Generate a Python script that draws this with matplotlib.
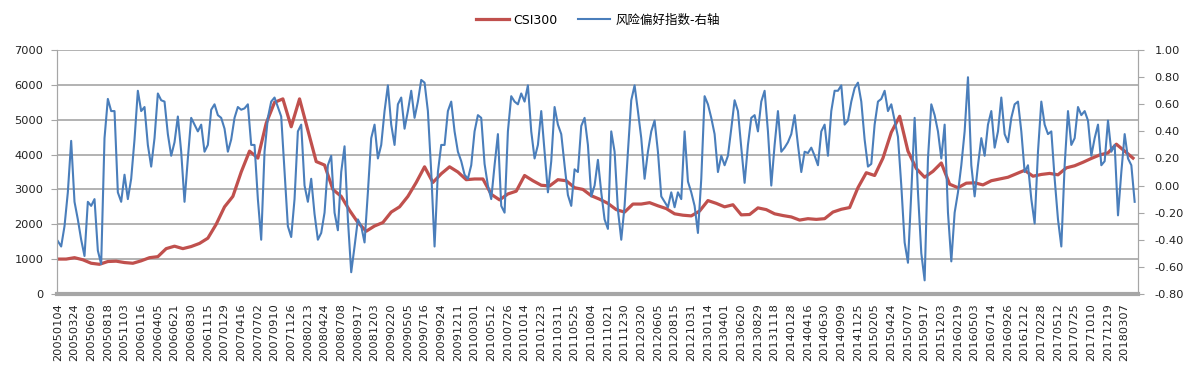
import matplotlib.pyplot as plt
import numpy as np

plt.rcParams['font.family'] = ['DejaVu Sans', 'Noto Sans CJK SC']
plt.rcParams['axes.unicode_minus'] = False

# x tick labels, one every 50 trading days
date_labels = [
    "20050104", "20050324", "20050609", "20050818", "20051103",
    "20060116", "20060405", "20060621", "20060830", "20061115",
    "20070129", "20070416", "20070702", "20070910", "20071126",
    "20080213", "20080424", "20080708", "20080917", "20081203",
    "20090220", "20090505", "20090716", "20090924", "20091211",
    "20100301", "20100512", "20100726", "20101014", "20101223",
    "20110311", "20110525", "20110804", "20111021", "20111230",
    "20120320", "20120605", "20120815", "20121031",
    "20130114", "20130401", "20130620", "20130829", "20131118",
    "20140128", "20140416", "20140630", "20140909", "20141125",
    "20150205", "20150424", "20150707", "20150917", "20151203",
    "20160219", "20160503", "20160714", "20160926", "20161212",
    "20170228", "20170512", "20170725", "20171010", "20171219",
    "20180307",
]
label_step = 50

# CSI300 close, read every 25 trading days
csi_step = 25
csi300 = [
    1000, 1000, 1040, 980, 880, 850, 930, 940, 900, 880,
    950, 1040, 1070, 1300, 1370, 1300, 1360, 1450, 1600, 2000,
    2500, 2800, 3500, 4100, 3900, 4900, 5500, 5600, 4800, 5600,
    4700, 3800, 3700, 3000, 2800, 2400, 2050, 1800, 1950, 2050,
    2350, 2500, 2800, 3200, 3650, 3200, 3450, 3650, 3500, 3280,
    3300, 3300, 2860, 2700, 2870, 2950, 3400, 3250, 3120, 3100,
    3280, 3250, 3050, 3000, 2820, 2720, 2600, 2420, 2350, 2580,
    2580, 2620, 2530, 2450, 2300, 2260, 2240, 2380, 2680, 2600,
    2500, 2560, 2270, 2280, 2470, 2420, 2300, 2250, 2210, 2120,
    2160, 2140, 2160, 2350, 2430, 2480, 3050, 3480, 3400, 3900,
    4640, 5100, 4100, 3600, 3350, 3520, 3760, 3150, 3050, 3180,
    3190, 3130, 3250, 3300, 3350, 3450, 3550, 3380, 3430, 3460,
    3420, 3620, 3680, 3780, 3890, 3990, 4050, 4300, 4100, 3900,
]

# risk appetite index (right axis), read every 10 trading days
risk_step = 10
risk = [
    -0.41, -0.45, -0.30, -0.05, 0.33, -0.12, -0.25, -0.40, -0.52, -0.12,
    -0.15, -0.10, -0.48, -0.58, 0.35, 0.64, 0.55, 0.55, -0.05, -0.12,
    0.08, -0.10, 0.05, 0.34, 0.70, 0.55, 0.58, 0.30, 0.14, 0.35,
    0.68, 0.63, 0.62, 0.38, 0.22, 0.32, 0.51, 0.25, -0.12, 0.20,
    0.50, 0.45, 0.40, 0.45, 0.25, 0.30, 0.56, 0.60, 0.52, 0.50,
    0.42, 0.25, 0.34, 0.50, 0.58, 0.56, 0.57, 0.60, 0.30, 0.30,
    -0.10, -0.40, 0.25, 0.50, 0.62, 0.65, 0.58, 0.51, 0.10, -0.30,
    -0.38, -0.10, 0.40, 0.45, 0.00, -0.12, 0.05, -0.21, -0.40, -0.35,
    -0.20, 0.15, 0.22, -0.20, -0.33, 0.10, 0.29, -0.25, -0.64, -0.45,
    -0.25, -0.30, -0.42, -0.05, 0.35, 0.45, 0.20, 0.30, 0.55, 0.74,
    0.45, 0.30, 0.60, 0.65, 0.42, 0.55, 0.70, 0.50, 0.62, 0.78,
    0.76, 0.55, 0.10, -0.45, 0.10, 0.30, 0.30, 0.55, 0.62, 0.40,
    0.25, 0.18, 0.08, 0.05, 0.15, 0.40, 0.52, 0.50, 0.16, 0.00,
    -0.10, 0.15, 0.38, -0.15, -0.20, 0.40, 0.66, 0.62, 0.60, 0.68,
    0.62, 0.74, 0.40, 0.20, 0.30, 0.55, 0.25, -0.05, 0.18, 0.58,
    0.45, 0.38, 0.15, -0.07, -0.15, 0.12, 0.10, 0.44, 0.50, 0.30,
    -0.08, 0.00, 0.19, -0.05, -0.25, -0.32, 0.40, 0.25, -0.18, -0.40,
    -0.15, 0.25, 0.63, 0.74, 0.55, 0.35, 0.05, 0.25, 0.40, 0.48,
    0.25, -0.08, -0.12, -0.16, -0.05, -0.16, -0.05, -0.10, 0.40, 0.03,
    -0.05, -0.15, -0.35, 0.05, 0.66, 0.60, 0.50, 0.38, 0.10, 0.22,
    0.15, 0.22, 0.42, 0.63, 0.55, 0.28, 0.02, 0.30, 0.50, 0.52,
    0.40, 0.62, 0.70, 0.40, 0.00, 0.30, 0.55, 0.25, 0.28, 0.32,
    0.38, 0.52, 0.30, 0.10, 0.25, 0.24, 0.28, 0.22, 0.15, 0.40,
    0.45, 0.22, 0.55, 0.70, 0.70, 0.74, 0.45, 0.48, 0.62, 0.72,
    0.76, 0.62, 0.34, 0.14, 0.16, 0.45, 0.62, 0.64, 0.70, 0.55,
    0.60, 0.48, 0.36, 0.00, -0.42, -0.57, -0.05, 0.50, -0.05, -0.50,
    -0.70, 0.20, 0.60, 0.52, 0.40, 0.20, 0.45, -0.20, -0.56, -0.20,
    -0.05, 0.15, 0.40, 0.80, 0.15, -0.08, 0.15, 0.35, 0.22, 0.45,
    0.55, 0.28, 0.40, 0.65, 0.38, 0.32, 0.50, 0.60, 0.62, 0.40,
    0.10, 0.15, -0.10, -0.28, 0.25, 0.62, 0.45, 0.38, 0.40, 0.05,
    -0.25, -0.45, 0.15, 0.55, 0.30, 0.35, 0.58, 0.52, 0.55, 0.48,
    0.22, 0.35, 0.45, 0.15, 0.18, 0.48, 0.25, 0.30, -0.22, 0.10,
    0.38, 0.20, 0.15, -0.12,
]

red = "#C0504D"
blue = "#4A7EBB"
grey = "#A6A6A6"
txt = "#222222"

fig, ax = plt.subplots(figsize=(11.91, 3.66), dpi=100)
fig.subplots_adjust(left=0.048, right=0.9555, top=0.863, bottom=0.197)
ax2 = ax.twinx()

x_csi = np.arange(len(csi300)) * csi_step
x_risk = np.arange(len(risk)) * risk_step

l1, = ax.plot(x_csi, csi300, color=red, lw=2.3, label="CSI300")
l2, = ax2.plot(x_risk, risk, color=blue, lw=1.5, label="风险偏好指数-右轴")

# left axis
ax.set_ylim(0, 7000)
ax.set_yticks(range(0, 7001, 1000))
ax.set_yticklabels([str(v) for v in range(0, 7001, 1000)])
ax.yaxis.grid(True, color=grey, lw=1.2)
ax.set_axisbelow(True)
ax.tick_params(axis="y", length=4, color=grey, labelsize=8.2, labelcolor=txt, pad=6)

# right axis
r_ticks = np.linspace(-0.8, 1.0, 10)
ax2.set_ylim(-0.8, 1.0)
ax2.set_yticks(r_ticks)
ax2.set_yticklabels(["%.2f" % v for v in r_ticks])
ax2.tick_params(axis="y", length=4, color=grey, labelsize=8.2, labelcolor=txt, pad=8)

# category axis
ax.set_xlim(-2, 3240)
ax.set_xticks(np.arange(len(date_labels)) * label_step)
ax.set_xticklabels(date_labels, rotation=90)
ax.tick_params(axis="x", length=0, labelsize=8.2, labelcolor=txt, pad=7)

for a in (ax, ax2):
    a.spines["top"].set_visible(False)
    a.spines["left"].set_color(grey)
    a.spines["right"].set_color(grey)
    a.spines["bottom"].set_visible(False)
ax.spines["bottom"].set_visible(True)
ax.spines["bottom"].set_color(grey)
ax.spines["bottom"].set_linewidth(3)

fig.legend(handles=[l1, l2], loc="center", bbox_to_anchor=(0.502, 0.945),
           ncol=2, frameon=False, fontsize=9, handlelength=2.6,
           columnspacing=1.6, handletextpad=0.4)

fig.savefig("out.png", dpi=100)
